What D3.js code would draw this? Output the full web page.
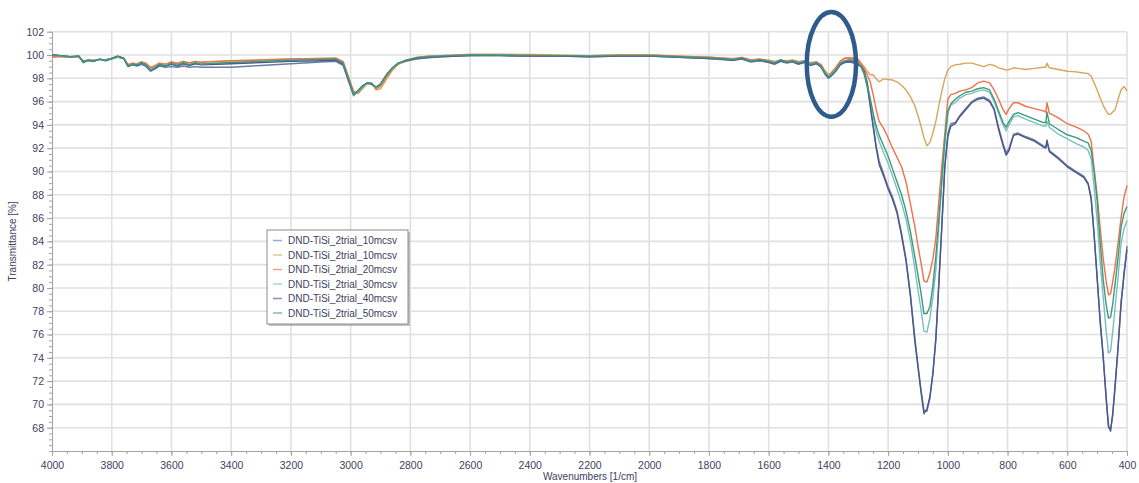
<!DOCTYPE html>
<html>
<head>
<meta charset="utf-8">
<script src="https://cdn.jsdelivr.net/npm/d3@7"></script>
<style>
  body { margin: 0; background: #ffffff; }
  svg { display: block; font-family: "Liberation Sans", Arial, sans-serif; }
</style>
</head>
<body>
<svg id="chart" width="1139" height="483"></svg>
<script>
// FTIR transmittance spectra, wavenumber grid in 1/cm (descending)
const wavenumbers = [
  4000, 3970, 3940, 3910, 3895, 3880, 3860, 3840, 3820, 3800,
  3780, 3760, 3745, 3730, 3715, 3700, 3685, 3670, 3655, 3640,
  3620, 3600, 3580, 3560, 3540, 3520, 3500, 3450, 3400, 3300,
  3200, 3100, 3050, 3025, 3005, 2990, 2975, 2960, 2945, 2930,
  2915, 2900, 2880, 2860, 2840, 2815, 2780, 2740, 2700, 2600,
  2500, 2400, 2300, 2200, 2100, 2000, 1900, 1800, 1760, 1720,
  1690, 1660, 1630, 1600, 1580, 1560, 1540, 1520, 1500, 1480,
  1460, 1440, 1425, 1410, 1400, 1390, 1375, 1360, 1345, 1330,
  1315, 1300,
  1290, 1280, 1270, 1260, 1250, 1240, 1230, 1215, 1200, 1185,
  1170, 1155, 1140, 1125, 1110, 1100, 1090, 1080, 1070, 1060,
  1050, 1040, 1030, 1020, 1010, 1000, 990, 975, 960, 940,
  920, 900, 880, 860, 845, 830, 815, 805, 795, 780,
  765, 740, 710, 680, 672, 668, 660, 630, 600, 570,
  545, 530, 520, 510, 500, 490, 480, 470, 462, 455,
  448, 440, 430, 420, 410, 400
];

// Transmittance [%] per sample
const trial10a = [
  100.0, 99.95, 99.85, 99.9, 99.35, 99.55, 99.5, 99.65, 99.55, 99.7,
  99.85, 99.7, 99.0, 99.15, 99.05, 99.2, 99.0, 98.6, 98.8, 99.05,
  98.95, 99.0, 98.95, 99.05, 98.95, 99.0, 98.95, 98.95, 98.95, 99.1,
  99.25, 99.4, 99.45, 99.1, 97.6, 96.5, 96.9, 97.3, 97.55, 97.5,
  97.2, 97.45, 98.25, 98.85, 99.25, 99.45, 99.65, 99.75, 99.85, 99.95,
  99.95, 99.9, 99.9, 99.85, 99.9, 99.9, 99.8, 99.7, 99.6, 99.55,
  99.65, 99.4, 99.5, 99.35, 99.2, 99.45, 99.3, 99.4, 99.2, 99.35,
  99.1, 99.25, 98.95, 98.3, 98.0, 98.2, 98.6, 99.15, 99.35, 99.4,
  99.3, 99.1,
  99.05, 98.55, 97.7, 95.9, 94.0, 92.2, 90.9, 89.8, 88.7, 87.8,
  86.6, 84.7, 82.5, 79.4, 75.6, 73.4, 71.3, 69.5, 69.4, 70.5,
  72.8, 75.5, 80.6, 85.2, 90.6, 93.2, 94.1, 94.2, 94.8, 95.4,
  96.0, 96.3, 96.4, 96.1, 95.4, 93.8, 92.4, 91.6, 92.0, 93.2,
  93.3, 93.0, 92.7, 92.2, 92.1, 92.5, 91.8, 91.2, 90.5, 90.0,
  89.6, 89.0, 87.8, 84.4, 81.0, 77.0, 74.3, 70.5, 68.0, 67.9,
  69.0, 71.7, 74.7, 78.8, 81.0, 83.6
];
const trial10b = [
  99.8, 99.85, 99.8, 99.85, 99.5, 99.55, 99.55, 99.6, 99.6, 99.65,
  99.8, 99.7, 99.2, 99.3, 99.25, 99.4, 99.3, 98.95, 99.1, 99.3,
  99.2, 99.4, 99.3, 99.45, 99.35, 99.45, 99.4, 99.45, 99.5, 99.6,
  99.65, 99.7, 99.75, 99.45, 98.0, 96.9, 96.7, 97.1, 97.55, 97.6,
  97.0, 97.1, 97.9, 98.7, 99.2, 99.5, 99.8, 99.9, 99.95, 100.05,
  100.05, 100.05, 100.0, 99.95, 100.0, 100.0, 99.9, 99.8, 99.75, 99.7,
  99.8, 99.6, 99.65, 99.55, 99.45, 99.55, 99.5, 99.55, 99.45, 99.5,
  99.35, 99.4, 99.2, 98.6, 98.3, 98.5, 98.95, 99.5, 99.75, 99.8,
  99.75, 99.65,
  99.3, 99.0, 98.6, 98.3, 98.3, 97.95, 97.7, 97.95, 97.9, 97.85,
  97.7, 97.4, 97.0, 96.4, 95.6, 94.8, 93.9, 92.9, 92.2, 92.5,
  93.3, 94.3, 95.7, 96.9, 98.0, 98.7, 99.0, 99.15, 99.2, 99.3,
  99.3, 99.15, 99.0, 99.2, 99.1, 98.9, 98.8, 98.7, 98.75, 98.9,
  98.85, 98.75, 98.85, 98.95, 98.95, 99.3, 98.9, 98.75, 98.6, 98.55,
  98.45, 98.4, 98.2, 97.6, 97.0, 96.3, 95.7, 95.2, 94.9, 94.9,
  95.1, 95.3, 96.2, 97.0, 97.3, 96.9
];
const trial20 = [
  99.85, 99.9, 99.8, 99.85, 99.45, 99.5, 99.55, 99.6, 99.6, 99.7,
  99.85, 99.7, 99.15, 99.3, 99.2, 99.4, 99.25, 98.9, 99.05, 99.3,
  99.2, 99.4, 99.25, 99.45, 99.3, 99.45, 99.35, 99.45, 99.5, 99.55,
  99.65, 99.7, 99.7, 99.4, 97.9, 96.8, 96.75, 97.2, 97.6, 97.6,
  97.1, 97.3, 98.1, 98.8, 99.25, 99.55, 99.8, 99.9, 99.95, 100.05,
  100.05, 100.0, 99.95, 99.95, 100.0, 100.0, 99.9, 99.8, 99.75, 99.65,
  99.8, 99.55, 99.65, 99.5, 99.4, 99.55, 99.45, 99.55, 99.4, 99.5,
  99.3, 99.4, 99.15, 98.55, 98.2, 98.45, 98.9, 99.45, 99.7, 99.75,
  99.7, 99.55,
  99.2, 98.8, 98.3, 97.7, 96.6, 95.3, 94.3, 93.7, 92.9, 92.0,
  91.2, 90.4, 89.1, 87.2, 85.2, 83.6, 82.2, 80.6, 80.5, 81.3,
  82.5, 84.3, 87.5, 90.5, 93.3, 96.2, 96.6, 96.7, 96.9, 97.0,
  97.2, 97.6, 97.75, 97.6, 97.0, 96.2, 95.3, 94.9, 95.4, 95.9,
  95.9, 95.6, 95.4, 95.2, 95.1, 95.9, 95.0, 94.6, 94.1, 93.8,
  93.5, 93.2, 92.6, 90.2, 88.0, 85.2, 82.6, 80.6, 79.4, 79.5,
  80.5, 81.8, 83.8, 86.0, 87.8, 88.8
];
const trial30 = [
  100.0, 99.9, 99.85, 99.85, 99.4, 99.5, 99.5, 99.6, 99.55, 99.7,
  99.85, 99.7, 99.05, 99.2, 99.2, 99.3, 99.1, 98.75, 98.95, 99.2,
  99.1, 99.25, 99.15, 99.3, 99.2, 99.3, 99.25, 99.3, 99.35, 99.45,
  99.55, 99.6, 99.6, 99.25, 97.7, 96.55, 96.85, 97.25, 97.55, 97.5,
  97.2, 97.45, 98.25, 98.85, 99.3, 99.5, 99.7, 99.85, 99.9, 99.95,
  100.0, 99.95, 99.9, 99.9, 99.95, 99.9, 99.85, 99.7, 99.65, 99.6,
  99.7, 99.5, 99.55, 99.4, 99.35, 99.55, 99.35, 99.45, 99.35, 99.4,
  99.25, 99.3, 99.0, 98.45, 98.15, 98.35, 98.75, 99.25, 99.5, 99.55,
  99.5, 99.3,
  98.9, 98.3, 97.2, 96.0, 94.7, 93.4, 92.6, 91.6, 90.7, 89.6,
  88.5, 87.3, 85.9, 84.0, 81.6, 79.8, 78.2, 76.3, 76.2, 77.4,
  79.2, 81.6, 85.3, 89.0, 92.4, 95.0, 95.7, 95.9, 96.3, 96.6,
  96.7, 96.9, 97.0, 96.8, 96.0, 95.0, 94.0, 93.5, 94.0, 94.7,
  94.8, 94.5, 94.2, 93.9, 93.9, 94.3, 93.8, 93.2, 92.8, 92.4,
  92.1, 91.8, 91.1, 88.6, 85.8, 82.3, 79.3, 76.4, 74.4, 74.6,
  76.2, 78.3, 80.9, 83.8, 85.1, 85.8
];
const trial40 = [
  100.0, 99.95, 99.85, 99.9, 99.4, 99.55, 99.45, 99.65, 99.5, 99.7,
  99.9, 99.7, 99.05, 99.2, 99.1, 99.3, 99.1, 98.7, 98.85, 99.15,
  99.05, 99.2, 99.05, 99.25, 99.1, 99.25, 99.15, 99.2, 99.25, 99.35,
  99.45, 99.5, 99.55, 99.2, 97.7, 96.6, 96.95, 97.35, 97.6, 97.5,
  97.25, 97.5, 98.3, 98.9, 99.3, 99.5, 99.7, 99.8, 99.85, 99.95,
  99.95, 99.9, 99.9, 99.85, 99.9, 99.9, 99.8, 99.7, 99.65, 99.55,
  99.7, 99.45, 99.55, 99.4, 99.25, 99.5, 99.35, 99.45, 99.25, 99.4,
  99.15, 99.3, 99.0, 98.35, 98.05, 98.25, 98.65, 99.2, 99.4, 99.45,
  99.4, 99.2,
  99.0, 98.6, 97.5, 95.6, 93.8, 92.0, 90.6, 89.6, 88.5, 87.6,
  86.4, 84.5, 82.3, 79.2, 75.3, 73.2, 71.1, 69.2, 69.6, 70.7,
  72.6, 75.8, 80.3, 85.5, 90.4, 93.0, 93.9, 94.1, 94.7, 95.3,
  95.9, 96.2, 96.3, 96.0, 95.3, 93.6, 92.2, 91.4, 91.8, 93.1,
  93.2, 92.9, 92.6, 92.1, 92.0, 92.7, 91.7, 91.1, 90.4, 89.9,
  89.5, 88.9, 87.6, 84.6, 80.8, 77.3, 74.1, 70.7, 68.2, 67.7,
  69.2, 71.4, 75.0, 78.5, 81.3, 83.3
];
const trial50 = [
  100.0, 99.95, 99.85, 99.9, 99.35, 99.55, 99.5, 99.65, 99.55, 99.7,
  99.9, 99.75, 99.0, 99.2, 99.15, 99.35, 99.1, 98.7, 98.9, 99.2,
  99.05, 99.3, 99.1, 99.35, 99.15, 99.35, 99.2, 99.3, 99.35, 99.45,
  99.55, 99.6, 99.65, 99.3, 97.8, 96.6, 96.9, 97.3, 97.6, 97.55,
  97.25, 97.5, 98.3, 98.9, 99.3, 99.55, 99.75, 99.85, 99.9, 100.0,
  100.0, 99.95, 99.95, 99.9, 99.95, 99.95, 99.85, 99.75, 99.7, 99.6,
  99.75, 99.45, 99.6, 99.45, 99.3, 99.6, 99.4, 99.5, 99.3, 99.45,
  99.2, 99.35, 99.05, 98.4, 98.1, 98.3, 98.7, 99.3, 99.5, 99.6,
  99.55, 99.35,
  99.0, 98.4, 97.4, 96.3, 95.0, 93.9, 93.1, 92.2, 91.3, 90.2,
  89.1, 88.0, 86.6, 84.8, 82.6, 81.1, 79.6, 77.8, 77.8, 78.4,
  80.2, 82.8, 85.9, 89.4, 92.7, 95.2, 95.8, 96.2, 96.5, 96.8,
  96.9, 97.1, 97.2, 97.0, 96.2, 95.2, 94.2, 93.8, 94.3, 94.9,
  95.05, 94.8, 94.5, 94.2, 94.2, 95.1, 94.1, 93.6, 93.15, 92.9,
  92.6, 92.45, 91.8, 90.0, 87.5, 84.0, 80.8, 78.6, 77.4, 77.5,
  78.6, 80.3, 82.6, 85.2, 86.4, 87.0
];

const seriesNames = [
  "DND-TiSi_2trial_10mcsv",
  "DND-TiSi_2trial_10mcsv",
  "DND-TiSi_2trial_20mcsv",
  "DND-TiSi_2trial_30mcsv",
  "DND-TiSi_2trial_40mcsv",
  "DND-TiSi_2trial_50mcsv"
];
const seriesValues = [trial10a, trial10b, trial20, trial30, trial40, trial50];
const seriesColors = ["#6a7bab", "#d9a45e", "#f0704a", "#79bfc0", "#4a5789", "#3c9a7c"];

const xTicks = [4000, 3800, 3600, 3400, 3200, 3000, 2800, 2600, 2400, 2200,
                2000, 1800, 1600, 1400, 1200, 1000, 800, 600, 400];
const yTicks = [68, 70, 72, 74, 76, 78, 80, 82, 84, 86, 88, 90, 92, 94, 96, 98, 100, 102];
const xMinorStep = 50;
const yMinorStep = 0.5;

// highlighted band around 1400 1/cm (wavenumber / transmittance extent of the ring)
const highlightBand = { center: 1390, low: 1465, high: 1300, top: 103.7, bottom: 94.7 };

const svg = d3.select("#chart");
const W = 1139, H = 483;
const plot = { left: 52, right: 1127, top: 31.7, bottom: 451 };

svg.append("rect").attr("width", W).attr("height", H).attr("fill", "#ffffff");

const x = d3.scaleLinear().domain([4000, 400]).range([plot.left, plot.right]);
const y = d3.scaleLinear().domain([66, 102]).range([plot.bottom, plot.top]);

// grid
const grid = svg.append("g").attr("stroke", "#e0e0e0").attr("stroke-width", 1.6);
grid.selectAll("line.v").data(xTicks.slice(1)).join("line")
  .attr("x1", d => x(d)).attr("x2", d => x(d))
  .attr("y1", plot.top).attr("y2", plot.bottom);
grid.selectAll("line.h").data(yTicks).join("line")
  .attr("x1", plot.left).attr("x2", plot.right)
  .attr("y1", d => y(d)).attr("y2", d => y(d));

// axes
const axisColor = "#a3a3a3";
const labelColor = "#3e3e5e";

const xMinor = d3.range(4000, 399, -xMinorStep);
const yMinor = d3.range(66, 102.01, yMinorStep);

const gxMinor = svg.append("g").attr("transform", `translate(0,${plot.bottom})`)
  .call(d3.axisBottom(x).tickValues(xMinor).tickSize(3).tickSizeOuter(0).tickFormat(""));
const gx = svg.append("g").attr("transform", `translate(0,${plot.bottom})`)
  .call(d3.axisBottom(x).tickValues(xTicks).tickSize(5).tickSizeOuter(0).tickPadding(6)
    .tickFormat(d3.format("d")));
const gyMinor = svg.append("g").attr("transform", `translate(${plot.left},0)`)
  .call(d3.axisLeft(y).tickValues(yMinor).tickSize(3).tickSizeOuter(0).tickFormat(""));
const gy = svg.append("g").attr("transform", `translate(${plot.left},0)`)
  .call(d3.axisLeft(y).tickValues(yTicks).tickSize(5).tickSizeOuter(0).tickPadding(3)
    .tickFormat(d3.format("d")));

[gxMinor, gx, gyMinor, gy].forEach(g => {
  g.selectAll("path,line").attr("stroke", axisColor);
  g.selectAll("text").attr("fill", labelColor).attr("font-size", 10.5)
    .attr("font-family", "'Liberation Sans', Arial, sans-serif");
});

svg.append("text")
  .attr("transform", `translate(16,${(plot.top + plot.bottom) / 2}) rotate(-90)`)
  .attr("text-anchor", "middle").attr("fill", labelColor).attr("font-size", 10)
  .text("Transmittance [%]");
svg.append("text")
  .attr("x", 590).attr("y", 480)
  .attr("text-anchor", "middle").attr("fill", labelColor).attr("font-size", 10)
  .text("Wavenumbers [1/cm]");

// spectra
const rows = seriesValues.map((vals, i) => ({
  name: seriesNames[i],
  color: seriesColors[i],
  points: wavenumbers.map((w, j) => [w, vals[j]])
}));

const line = d3.line().x(d => x(d[0])).y(d => y(d[1]));
svg.append("g").selectAll("path").data(rows).join("path")
  .attr("d", d => line(d.points))
  .attr("fill", "none")
  .attr("stroke", d => d.color)
  .attr("stroke-width", 1.4)
  .attr("stroke-linejoin", "round");

// ring marking the 1400 band
const ex0 = x(highlightBand.low), ex1 = x(highlightBand.high);
const ey0 = y(highlightBand.top), ey1 = y(highlightBand.bottom);
svg.append("ellipse")
  .attr("cx", x(highlightBand.center))
  .attr("cy", (ey0 + ey1) / 2)
  .attr("rx", (ex1 - ex0) / 2)
  .attr("ry", (ey1 - ey0) / 2)
  .attr("fill", "none")
  .attr("stroke", "#2f5b8d")
  .attr("stroke-width", 4.5);

// legend
const lg = svg.append("g").attr("transform", "translate(267,230)");
lg.append("rect").attr("x", 2).attr("y", 2).attr("width", 141).attr("height", 94)
  .attr("fill", "#9a9a9a").attr("opacity", 0.6);
lg.append("rect").attr("width", 141).attr("height", 94)
  .attr("fill", "#ffffff").attr("stroke", "#8c8c8c").attr("stroke-width", 1);
const items = lg.selectAll("g.item").data(rows).join("g")
  .attr("transform", (d, i) => `translate(0,${10.5 + i * 14.5})`);
items.append("line").attr("x1", 6).attr("x2", 15).attr("y1", 0).attr("y2", 0)
  .attr("stroke", d => d.color).attr("stroke-width", 1.5).attr("opacity", 0.65);
items.append("text").attr("x", 21).attr("y", 3.5)
  .attr("fill", labelColor).attr("font-size", 10)
  .text(d => d.name);
</script>
</body>
</html>
